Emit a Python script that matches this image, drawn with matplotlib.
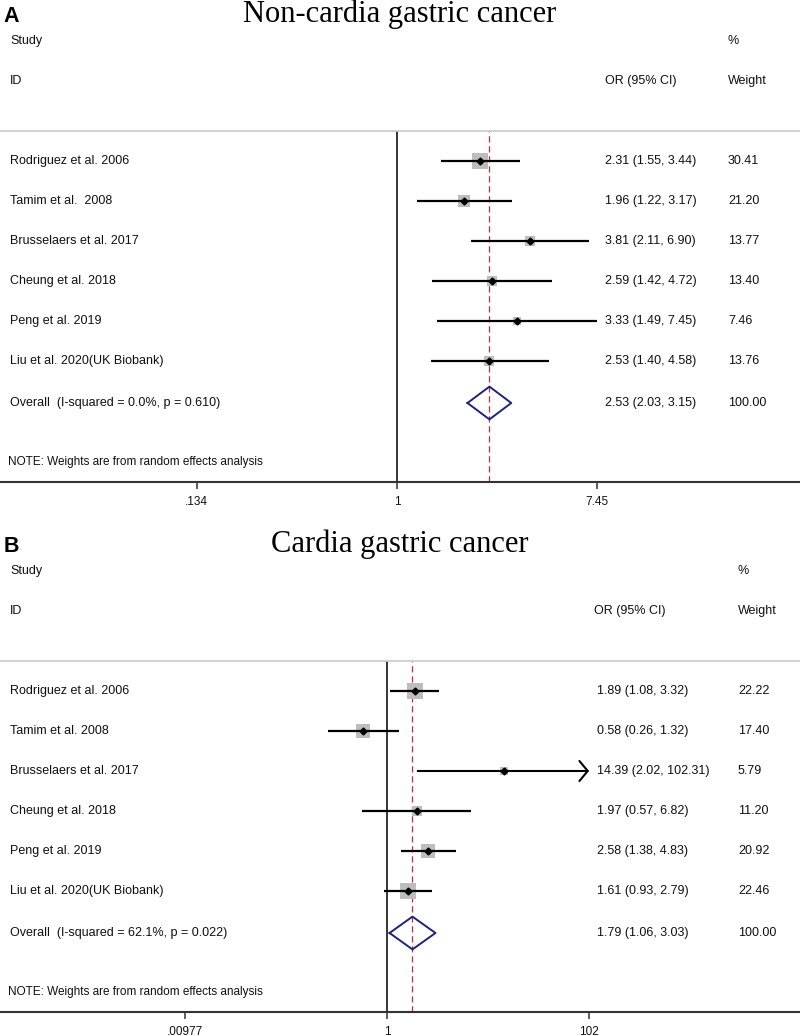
# forest plots: non-cardia (A) and cardia (B) gastric cancer
import matplotlib
matplotlib.use("Agg")
import matplotlib.pyplot as plt
import matplotlib.transforms as mtransforms
import numpy as np

plt.rcParams["font.family"] = ["Liberation Sans", "DejaVu Sans"]

# ---- data -------------------------------------------------------------
studies_a = ["Rodriguez et al. 2006", "Tamim et al.  2008", "Brusselaers et al. 2017",
             "Cheung et al. 2018", "Peng et al. 2019", "Liu et al. 2020(UK Biobank)"]
or_a = [2.31, 1.96, 3.81, 2.59, 3.33, 2.53]
lo_a = [1.55, 1.22, 2.11, 1.42, 1.49, 1.40]
hi_a = [3.44, 3.17, 6.90, 4.72, 7.45, 4.58]
wt_a = [30.41, 21.20, 13.77, 13.40, 7.46, 13.76]
overall_a = (2.53, 2.03, 3.15)
het_a = ("0.0%", "0.610")
ticks_a = [0.134, 1, 7.45]
ticklabels_a = [".134", "1", "7.45"]

studies_b = ["Rodriguez et al. 2006", "Tamim et al. 2008", "Brusselaers et al. 2017",
             "Cheung et al. 2018", "Peng et al. 2019", "Liu et al. 2020(UK Biobank)"]
or_b = [1.89, 0.58, 14.39, 1.97, 2.58, 1.61]
lo_b = [1.08, 0.26, 2.02, 0.57, 1.38, 0.93]
hi_b = [3.32, 1.32, 102.31, 6.82, 4.83, 2.79]
wt_b = [22.22, 17.40, 5.79, 11.20, 20.92, 22.46]
overall_b = (1.79, 1.06, 3.03)
het_b = ("62.1%", "0.022")
ticks_b = [0.00977, 1, 102]
ticklabels_b = [".00977", "1", "102"]

TXT = "#101010"
FS = 9


def forest(ax, letter, title, studies, ors, los, his, wts, overall, het,
           ticks, ticklabels, xlim, or_x, wt_x, hdr_x):
    tr = mtransforms.blended_transform_factory(ax.transAxes, ax.transData)
    ax.set_xscale("log")
    ax.set_xlim(*xlim)
    ax.set_ylim(9.025, 0.25)
    ax.set_yticks([])
    ax.minorticks_off()
    for s in ["left", "right"]:
        ax.spines[s].set_visible(False)
    ax.spines["top"].set_color("#c8c8c8")
    ax.spines["top"].set_linewidth(1.2)
    ax.spines["bottom"].set_color("#333333")
    ax.spines["bottom"].set_linewidth(1.5)
    ax.set_xticks(ticks)
    ax.set_xticklabels(ticklabels)
    ax.tick_params(axis="x", which="both", length=5, width=1.1, pad=5,
                   labelsize=8.5, colors="#333333", labelcolor=TXT)
    ax.tick_params(axis="x", which="minor", length=0)

    ax.axvline(1, color="black", lw=1.1, zorder=1)
    ax.axvline(overall[0], color="#b5333f", lw=0.9, ls=(0, (5, 3)), zorder=1)

    wmax = max(wts)
    xmax_tick = max(ticks)
    xmin_tick = min(ticks)
    for i, (name, o, lo, hi, w) in enumerate(zip(studies, ors, los, his, wts)):
        y = i + 1
        side = 11 * np.sqrt(w / wmax)
        ax.scatter([o], [y], marker="s", s=side ** 2, color="#bdbdbd",
                   linewidths=0, zorder=2)
        if hi > xmax_tick:
            ax.annotate("", xy=(xmax_tick, y), xytext=(max(lo, xmin_tick), y),
                        arrowprops=dict(arrowstyle="->,head_length=0.3,head_width=0.36",
                                        lw=1.5, color="black", shrinkA=0, shrinkB=0,
                                        mutation_scale=20), zorder=3)
        else:
            ax.plot([lo, hi], [y, y], color="black", lw=1.6, solid_capstyle="butt", zorder=3)
        ax.plot([o], [y], marker="D", ms=3.5, color="black", zorder=4)
        ax.text(0.0125, y, name, transform=tr, va="center", ha="left", fontsize=FS, color=TXT)
        ax.text(or_x, y, f"{o:.2f} ({lo:.2f}, {hi:.2f})", transform=tr, va="center",
                ha="left", fontsize=FS, color=TXT)
        ax.text(wt_x, y, f"{w:.2f}", transform=tr, va="center", ha="left",
                fontsize=FS, color=TXT)

    # pooled estimate diamond
    yo = len(studies) + 1.05
    o, lo, hi = overall
    ax.plot([lo, o, hi, o, lo], [yo, yo - 0.41, yo, yo + 0.41, yo], color="#1f2378",
            lw=1.4, zorder=3)
    ax.text(0.0125, yo, f"Overall  (I-squared = {het[0]}, p = {het[1]})", transform=tr,
            va="center", ha="left", fontsize=FS, color=TXT)
    ax.text(or_x, yo, f"{o:.2f} ({lo:.2f}, {hi:.2f})", transform=tr, va="center",
            ha="left", fontsize=FS, color=TXT)
    ax.text(wt_x, yo, "100.00", transform=tr, va="center", ha="left",
            fontsize=FS, color=TXT)
    ax.text(0.01, 8.525, "NOTE: Weights are from random effects analysis", transform=tr,
            va="center", ha="left", fontsize=8.5, color=TXT)

    # headers
    ax.text(0.0125, -2, "Study", transform=tr, va="center", fontsize=FS, color=TXT, clip_on=False)
    ax.text(0.0125, -1, "ID", transform=tr, va="center", fontsize=FS, color=TXT, clip_on=False)
    ax.text(hdr_x, -1, "OR (95% CI)", transform=tr, va="center", fontsize=FS,
            color=TXT, clip_on=False)
    ax.text(wt_x, -2, "%", transform=tr, va="center", fontsize=FS, color=TXT, clip_on=False)
    ax.text(wt_x, -1, "Weight", transform=tr, va="center", fontsize=FS, color=TXT, clip_on=False)
    ax.text(0.5, -2.48, title, transform=tr, va="baseline", ha="center", fontsize=22,
            family=["Liberation Serif", "DejaVu Serif"], color="black", clip_on=False)
    ax.text(0.004, -2.48, letter, transform=tr, va="baseline", ha="left", fontsize=15.5,
            fontweight="bold", color="black", clip_on=False)


fig = plt.figure(figsize=(8, 10.36), dpi=100)
ax_a = fig.add_axes([0, 1 - 482 / 1036, 1, 351 / 1036])
ax_b = fig.add_axes([0, 1 - 1012 / 1036, 1, 351 / 1036])

forest(ax_a, "A", "Non-cardia gastric cancer", studies_a, or_a, lo_a, hi_a, wt_a,
       overall_a, het_a, ticks_a, ticklabels_a, (10 ** -1.7313, 10 ** 1.7575),
       605 / 800, 728 / 800, 605 / 800)
forest(ax_b, "B", "Cardia gastric cancer", studies_b, or_b, lo_b, hi_b, wt_b,
       overall_b, het_b, ticks_b, ticklabels_b, (10 ** -3.847, 10 ** 4.105),
       597 / 800, 738 / 800, 594 / 800)

fig.savefig("out.png", dpi=100)
